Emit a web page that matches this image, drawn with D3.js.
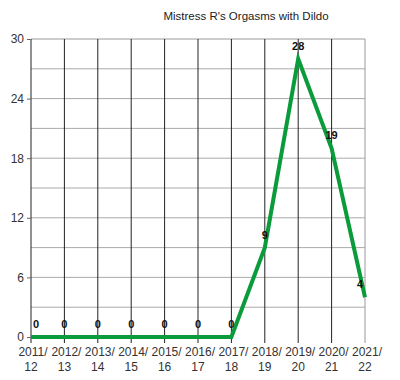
<!DOCTYPE html>
<html>
<head>
<meta charset="utf-8">
<script src="https://cdn.jsdelivr.net/npm/d3@7"></script>
<style>
	body { margin: 0; background: #fff; }
	text { font-family: "Liberation Sans", Arial, sans-serif; }
</style>
</head>
<body>
<div id="chart"></div>
<script>
// data
var seasons = ["2011/12", "2012/13", "2013/14", "2014/15", "2015/16", "2016/17",
	"2017/18", "2018/19", "2019/20", "2020/21", "2021/22"];
var orgasms = [0, 0, 0, 0, 0, 0, 0, 9, 28, 19, 4];
var yTicks = [0, 6, 12, 18, 24, 30];
var yGrid = [3, 6, 9, 12, 15, 18, 21, 24, 27, 30];
var title = "Mistress R's Orgasms with Dildo";

var W = 400, H = 380;
var m = {left: 31, right: 35, top: 39, bottom: 43};

var svg = d3.select("#chart")
	.append("svg")
	.attr("width", W)
	.attr("height", H);

var x = d3.scalePoint()
	.domain(seasons)
	.range([m.left, W - m.right]);

var y = d3.scaleLinear()
	.domain([0, 30])
	.range([H - m.bottom, m.top]);

// (title)
svg.append("text")
	.attr("x", 246)
	.attr("y", 20)
	.attr("text-anchor", "middle")
	.attr("font-size", "11.5px")
	.attr("fill", "#222")
	.text(title);

// (grid) horizontal lines every 3
svg.selectAll("line.hgrid")
	.data(yGrid)
	.enter()
	.append("line")
	.attr("class", "hgrid")
	.attr("x1", m.left)
	.attr("x2", W - m.right)
	.attr("y1", function(d) { return y(d); })
	.attr("y2", function(d) { return y(d); })
	.attr("stroke", function(d) { return d === 30 ? "#bbb" : "#aaa"; })
	.attr("stroke-width", function(d) { return d === 30 ? 1.5 : 1; });

// (grid) vertical lines, dark, with ticks below axis
svg.selectAll("line.vgrid")
	.data(seasons)
	.enter()
	.append("line")
	.attr("class", "vgrid")
	.attr("x1", function(d) { return x(d); })
	.attr("x2", function(d) { return x(d); })
	.attr("y1", y(30))
	.attr("y2", y(0) + 6)
	.attr("stroke", function(d, i) { return i === seasons.length - 1 ? "#999" : "#222"; })
	.attr("stroke-width", 1);

// (y axis) ticks and labels
var yAxis = d3.axisLeft(y)
	.tickValues(yTicks)
	.tickSize(4)
	.tickPadding(3);
var gy = svg.append("g")
	.attr("transform", "translate(" + m.left + ",0)")
	.call(yAxis);
gy.select(".domain").remove();
gy.selectAll(".tick line").attr("stroke", "#666");
gy.selectAll(".tick text")
	.attr("font-size", "12px")
	.attr("fill", "#333")
	.attr("font-family", "'Liberation Sans', Arial, sans-serif");

// (x labels) two lines
var xl = svg.selectAll("text.xlab")
	.data(seasons)
	.enter()
	.append("text")
	.attr("class", "xlab")
	.attr("text-anchor", "middle")
	.attr("font-size", "12px")
	.attr("fill", "#333")
	.attr("y", H - m.bottom + 19);
xl.append("tspan")
	.attr("x", function(d) { return x(d) + 2; })
	.text(function(d) { return d.split("/")[0] + "/"; });
xl.append("tspan")
	.attr("x", function(d) { return x(d); })
	.attr("dy", 15)
	.text(function(d) { return d.split("/")[1]; });

// (line)
var pts = seasons.map(function(s, i) { return [x(s), y(orgasms[i])]; });
svg.append("path")
	.datum(pts)
	.attr("d", d3.line())
	.attr("fill", "none")
	.attr("stroke", "#0a9b3b")
	.attr("stroke-width", 4)
	.attr("stroke-linejoin", "miter");

// (labels) values above points, kept inside plot
svg.selectAll("text.val")
	.data(orgasms)
	.enter()
	.append("text")
	.attr("class", "val")
	.attr("text-anchor", "middle")
	.attr("font-size", "11px")
	.attr("font-weight", "bold")
	.attr("fill", "#111")
	.attr("x", function(d, i) {
		var px = x(seasons[i]);
		return Math.min(Math.max(px, m.left + 5), W - m.right - 5);
	})
	.attr("y", function(d) { return y(d) - 9; })
	.text(function(d) { return d; });
</script>
</body>
</html>
